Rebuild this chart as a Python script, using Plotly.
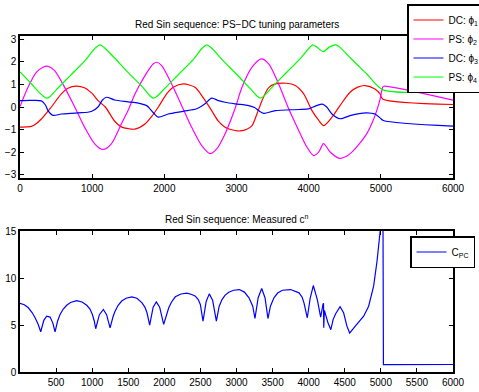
import plotly.graph_objects as go

# ---------------- data: top panel (tuning parameters) ----------------
x_phi1 = [0, 100, 157, 200, 296, 434, 573, 665, 781, 900, 942, 1000, 1081, 1182, 1312, 1404, 1500, 1594,
          1732, 1825, 1917, 2032, 2124, 2263, 2425, 2540, 2656, 2749, 2841, 2979, 3050, 3150, 3215, 3284,
          3353, 3446, 3538, 3690, 3815, 3931, 4046, 4130, 4208, 4323, 4434, 4573, 4680, 4781, 4919, 4989,
          5026, 6000]
y_phi1 = [-0.89, -0.88, -0.86, -0.8, -0.53, 0.0, 0.58, 0.83, 0.92, 0.84, 0.75, 0.6, 0.28, 0.0, -0.63, -0.88,
          -0.96, -0.98, -0.75, -0.42, 0.0, 0.58, 0.87, 1.02, 0.87, 0.4, -0.16, -0.63, -0.9, -1.04, -1.06,
          -0.97, -0.82, -0.3, 0.28, 0.86, 1.02, 1.05, 0.95, 0.58, -0.16, -0.55, -0.82, -0.45, 0.06, 0.65,
          0.88, 0.95, 0.8, 0.58, 0.35, 0.11]

x_phi2 = [0, 111, 226, 319, 388, 480, 619, 758, 896, 1035, 1150, 1266, 1404, 1497, 1593, 1732, 1848, 1894,
          1963, 2101, 2240, 2379, 2518, 2633, 2726, 2841, 2979, 3076, 3215, 3344, 3446, 3584, 3723, 3862,
          3977, 4069, 4138, 4206, 4300, 4430, 4530, 4619, 4710, 4804, 4880, 4943, 4990, 5026, 5040, 6000]
y_phi2 = [0.02, 0.87, 1.53, 1.76, 1.8, 1.61, 0.87, 0.0, -0.9, -1.63, -1.88, -1.63, -0.75, -0.16, 0.58,
          1.39, 1.91, 1.98, 1.83, 1.02, 0.06, -0.9, -1.71, -2.06, -1.85, -1.19, -0.08, 0.87, 1.76, 2.13,
          1.91, 1.02, -0.08, -1.04, -1.78, -2.15, -2.0, -1.62, -2.0, -2.27, -2.17, -1.93, -1.6, -1.19,
          -0.7, -0.16, 0.35, 0.88, 0.92, 0.3]

x_phi3 = [0, 150, 296, 350, 388, 457, 573, 804, 988, 1081, 1140, 1196, 1312, 1497, 1640, 1760, 1801, 1860,
          1917, 2055, 2263, 2448, 2564, 2656, 2750, 2841, 2979, 3169, 3250, 3307, 3377, 3538, 3862, 4000,
          4100, 4190, 4250, 4323, 4434, 4573, 4700, 4804, 4919, 4989, 5035, 6000]
y_phi3 = [0.28, 0.29, 0.27, 0.1, -0.16, -0.37, -0.31, -0.26, -0.2, 0.0, 0.3, 0.43, 0.31, 0.23, 0.17, 0.05,
          -0.08, -0.3, -0.45, -0.31, -0.19, -0.08, 0.14, 0.39, 0.28, 0.21, 0.14, 0.06, -0.02, -0.16, -0.28,
          -0.16, -0.11, -0.08, 0.05, 0.13, 0.0, -0.31, -0.52, -0.38, -0.29, -0.26, -0.31, -0.48, -0.6, -0.85]

x_phi4 = [0, 150, 280, 340, 370, 410, 500, 700, 900, 1040, 1108, 1170, 1300, 1500, 1700, 1800, 1847, 1890,
          2000, 2200, 2400, 2530, 2587, 2650, 2800, 3000, 3200, 3290, 3330, 3370, 3500, 3700, 3900, 4010,
          4056, 4110, 4203, 4290, 4379, 4430, 4600, 4800, 5026, 6000]
y_phi4 = [1.55, 1.05, 0.6, 0.43, 0.39, 0.44, 0.75, 1.4, 2.05, 2.6, 2.75, 2.62, 2.2, 1.52, 0.88, 0.5, 0.39,
          0.45, 0.8, 1.45, 2.1, 2.62, 2.75, 2.62, 2.1, 1.45, 0.78, 0.47, 0.39, 0.46, 0.9, 1.55, 2.2, 2.62,
          2.75, 2.66, 2.45, 2.66, 2.75, 2.65, 2.1, 1.48, 0.77, 0.72]

# ---------------- data: bottom panel (measured c^n) ----------------
x_cpc = [0, 60, 116, 170, 209, 250, 287, 330, 370, 417, 455, 486, 520, 555, 600, 647, 700, 786, 860, 925,
         970, 1003, 1030, 1049, 1100, 1155, 1200, 1248, 1290, 1317, 1360, 1409, 1470, 1550, 1620, 1691,
         1730, 1760, 1797, 1845, 1889, 1935, 1991, 2030, 2061, 2100, 2152, 2230, 2313, 2380, 2430, 2470,
         2499, 2536, 2580, 2623, 2670, 2721, 2760, 2799, 2840, 2892, 2960, 3040, 3110, 3173, 3225, 3256,
         3300, 3349, 3395, 3436, 3470, 3519, 3570, 3635, 3750, 3866, 3910, 3935, 3981, 4020, 4064, 4120,
         4166, 4200, 4206, 4209, 4218, 4265, 4307, 4340, 4374, 4435, 4484, 4530, 4568, 4646, 4700, 4762,
         4831, 4900, 4947, 4983, 5005, 5030, 5036, 6000]
y_cpc = [7.3, 7.15, 6.83, 6.3, 5.77, 5.1, 4.28, 5.5, 5.94, 5.84, 5.2, 4.28, 5.4, 6.12, 6.7, 7.1, 7.4, 7.6,
         7.45, 7.1, 6.7, 6.12, 5.4, 4.6, 6.1, 6.65, 6.1, 4.7, 5.9, 6.47, 7.1, 7.55, 7.85, 8.0, 7.85, 7.36,
         6.9, 6.3, 4.99, 6.9, 7.46, 6.9, 5.06, 6.2, 6.83, 7.45, 8.0, 8.3, 8.38, 8.25, 8.07, 7.7, 7.18, 5.41,
         7.5, 8.31, 7.6, 5.41, 7.0, 7.71, 8.15, 8.49, 8.7, 8.77, 8.5, 7.89, 7.0, 5.69, 7.9, 8.88, 7.9, 5.69,
         7.0, 7.89, 8.4, 8.7, 8.77, 8.42, 7.95, 7.36, 5.77, 7.8, 9.2, 7.71, 5.84, 7.25, 7.3, 4.7, 6.55, 5.3,
         4.5, 5.6, 6.2, 6.95, 6.3, 4.88, 4.14, 4.88, 5.4, 5.94, 7.0, 9.13, 11.78, 14.26, 16.0, 16.0, 0.78, 0.8]

top_xticks = [0, 1000, 2000, 3000, 4000, 5000, 6000]
top_yticks = [-3, -2, -1, 0, 1, 2, 3]
bot_xticks = [500, 1000, 1500, 2000, 2500, 3000, 3500, 4000, 4500, 5000, 5500, 6000]
bot_yticks = [0, 5, 10, 15]

FONT = "Liberation Sans, Arial, sans-serif"
W, H = 479, 392
ML, MR, MT, MB = 20, 26, 36, 20
PW = W - ML - MR
PH = H - MT - MB

def py2paper(py):
    return (H - MB - py) / PH

def px2paper(px):
    return (px - ML) / PW

fig = go.Figure()
series = [
    (x_phi1, y_phi1, "DC: ϕ<sub>1</sub>", "#ff0000"),
    (x_phi2, y_phi2, "PS: ϕ<sub>2</sub>", "#ff00ff"),
    (x_phi3, y_phi3, "DC: ϕ<sub>3</sub>", "#0000ff"),
    (x_phi4, y_phi4, "PS: ϕ<sub>4</sub>", "#00ff00"),
]
for xs, ys, name, col in series:
    fig.add_trace(go.Scatter(x=xs, y=ys, mode="lines", name=name,
                             line=dict(color=col, width=1.2, shape="spline", smoothing=0.8),
                             xaxis="x", yaxis="y", legend="legend"))

fig.add_trace(go.Scatter(x=x_cpc, y=y_cpc, mode="lines", name="C<sub>PC</sub>",
                         line=dict(color="#0000ff", width=1.2),
                         xaxis="x2", yaxis="y2", legend="legend2"))

axis_common = dict(showline=True, linecolor="black", linewidth=1.5, mirror="allticks",
                   ticks="inside", ticklen=4, tickcolor="black", showgrid=False, zeroline=False,
                   tickfont=dict(family=FONT, size=10, color="black"))

top_lo = py2paper(178)
bot_hi = py2paper(231)

legend_common = dict(xref="paper", yref="paper", xanchor="left", yanchor="top",
                     bgcolor="white", bordercolor="black", borderwidth=1.5,
                     font=dict(family=FONT, size=10, color="black"), tracegroupgap=0, itemwidth=30)

fig.update_layout(
    width=W, height=H,
    margin=dict(l=ML, r=MR, t=MT, b=MB, autoexpand=False),
    paper_bgcolor="white", plot_bgcolor="white",
    font=dict(family=FONT, size=10, color="black"),
    xaxis=dict(domain=[0, 1], anchor="y", range=[0, 6000], tickvals=top_xticks, **axis_common),
    yaxis=dict(domain=[top_lo, 1], anchor="x", range=[-3.1416, 3.1416], tickvals=top_yticks, **axis_common),
    xaxis2=dict(domain=[0, 1], anchor="y2", range=[0, 6000], tickvals=bot_xticks, **axis_common),
    yaxis2=dict(domain=[0, bot_hi], anchor="x2", range=[0, 15], tickvals=bot_yticks, **axis_common),
    legend=dict(x=px2paper(407), y=py2paper(4), **legend_common),
    legend2=dict(x=px2paper(410), y=py2paper(236), **legend_common),
    annotations=[
        dict(text="Red Sin sequence: PS−DC tuning parameters", xref="paper", yref="paper",
             x=0.5, y=py2paper(25), xanchor="center", yanchor="middle", showarrow=False,
             font=dict(family=FONT, size=10, color="black")),
        dict(text="Red Sin sequence: Measured c<sup>n</sup>", xref="paper", yref="paper",
             x=0.5, y=py2paper(219), xanchor="center", yanchor="middle", showarrow=False,
             font=dict(family=FONT, size=10, color="black")),
    ],
)

fig.write_html("out.html", config={"displayModeBar": False},
               post_script="document.body.style.margin='0';document.body.style.overflow='hidden';")
